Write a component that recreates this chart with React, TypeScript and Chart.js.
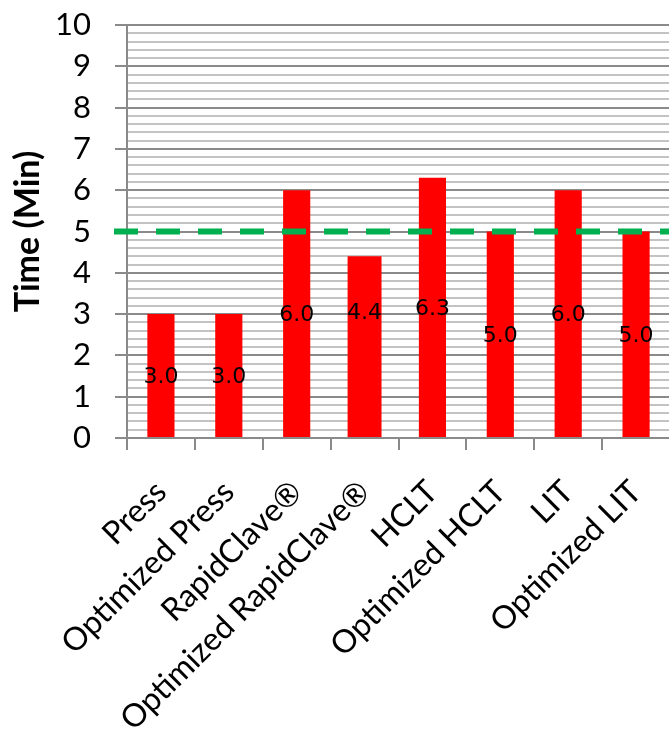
import React, { useEffect, useRef } from "react";
import { Chart, registerables } from "chart.js";

Chart.register(...registerables);

// Cycle time per manufacturing process, in minutes
const processes = [
  "Press",
  "Optimized Press",
  "RapidClave®",
  "Optimized RapidClave®",
  "HCLT",
  "Optimized HCLT",
  "LIT",
  "Optimized LIT",
];
const cycleTimes = [3.0, 3.0, 6.0, 4.4, 6.3, 5.0, 6.0, 5.0];
const targetTime = 5;
const wideBars = [3];

const Y_MIN = 0;
const Y_MAX = 10;
const MINOR_STEP = 0.2;

const MAJOR = "#8a8a8a";
const MINOR = "#c3c3c3";
const BAR_RED = "#ff0000";
const TARGET_GREEN = "#00b050";

const W = 672;
const H = 736;
const PLOT_LEFT = 127;
const PLOT_TOP = 25;
const PLOT_BOTTOM = 438;
const PLOT_RIGHT = 670;

const isMajor = (v: number) => Math.abs(v - Math.round(v)) < 1e-6;

// value label of the wide bar sits higher than the bar centre
const labelLift: Record<number, number> = { 3: 35 };

const overlayPlugin = {
  id: "overlay",
  afterDatasetsDraw(chart: any) {
    const ctx = chart.ctx as CanvasRenderingContext2D;
    ctx.save();
    ctx.font = '22px "DejaVu Sans"';
    ctx.fillStyle = "#000";
    ctx.textAlign = "center";
    ctx.textBaseline = "middle";
    chart.data.datasets.forEach((ds: any, di: number) => {
      const meta = chart.getDatasetMeta(di);
      meta.data.forEach((bar: any, i: number) => {
        const v = ds.data[i];
        if (v == null) return;
        const { x, y, base } = bar.getProps(["x", "y", "base"], true);
        const lift = labelLift[i] ?? 0;
        ctx.fillText(Number(v).toFixed(1), x, (y + base) / 2 + 2 - lift);
      });
    });

    // dashed target line
    const yPix = chart.scales.y.getPixelForValue(targetTime);
    ctx.strokeStyle = TARGET_GREEN;
    ctx.lineWidth = 6;
    ctx.setLineDash([24, 18]);
    ctx.beginPath();
    ctx.moveTo(chart.chartArea.left - 13, yPix);
    ctx.lineTo(chart.width, yPix);
    ctx.stroke();
    ctx.restore();
  },
};

export default function App() {
  const canvasRef = useRef<HTMLCanvasElement | null>(null);

  useEffect(() => {
    if (!canvasRef.current) return;
    const narrow = cycleTimes.map((v, i) => (wideBars.includes(i) ? null : v));
    const wide = cycleTimes.map((v, i) => (wideBars.includes(i) ? v : null));

    const chart = new Chart(canvasRef.current, {
      type: "bar",
      data: {
        labels: processes,
        datasets: [
          {
            data: narrow,
            backgroundColor: BAR_RED,
            barPercentage: 0.4,
            categoryPercentage: 1,
            grouped: false,
          },
          {
            data: wide,
            backgroundColor: BAR_RED,
            barPercentage: 0.5,
            categoryPercentage: 1,
            grouped: false,
          },
        ],
      },
      options: {
        responsive: false,
        animation: false,
        layout: { padding: { top: PLOT_TOP, right: W - PLOT_RIGHT, left: 0, bottom: 0 } },
        plugins: {
          legend: { display: false },
          tooltip: { enabled: false },
        },
        scales: {
          x: {
            offset: true,
            grid: {
              display: true,
              offset: true,
              drawOnChartArea: false,
              drawTicks: true,
              tickLength: 12,
              color: MAJOR,
              lineWidth: 2,
            },
            border: { display: true, color: MAJOR, width: 2 },
            ticks: {
              autoSkip: false,
              maxRotation: 45,
              minRotation: 45,
              padding: 23,
              color: "#000",
              font: { family: "Lato", size: 32 },
            },
            afterFit: (s: any) => {
              s.height = H - PLOT_BOTTOM;
              s.paddingLeft = 0;
              s.paddingRight = 0;
            },
          },
          y: {
            min: Y_MIN,
            max: Y_MAX,
            ticks: {
              stepSize: MINOR_STEP,
              autoSkip: false,
              padding: 24,
              color: "#000",
              font: { family: "Lato", size: 31 },
              callback: (v: any) => (isMajor(Number(v)) ? String(Math.round(Number(v))) : ""),
            },
            grid: {
              lineWidth: 2,
              tickLength: 12,
              color: (c: any) => (isMajor(c.tick.value) ? MAJOR : MINOR),
              tickColor: (c: any) => (isMajor(c.tick.value) ? MAJOR : "rgba(0,0,0,0)"),
            },
            border: { display: true, color: MAJOR, width: 2 },
            title: {
              display: true,
              text: "Time (Min)",
              color: "#000",
              font: { family: "Lato", size: 34, weight: "bold" },
              padding: { top: 8, bottom: 0 },
            },
            afterFit: (s: any) => {
              s.width = PLOT_LEFT;
              s.paddingTop = 0;
              s.paddingBottom = 0;
            },
          },
        },
      },
      plugins: [overlayPlugin],
    } as any);

    return () => chart.destroy();
  }, []);

  return (
    <div
      style={{
        position: "fixed",
        left: 0,
        top: 0,
        width: 669,
        height: 736,
        overflow: "hidden",
        background: "#fff",
      }}
    >
      <canvas ref={canvasRef} width={W} height={H} style={{ width: W, height: H }} />
    </div>
  );
}
